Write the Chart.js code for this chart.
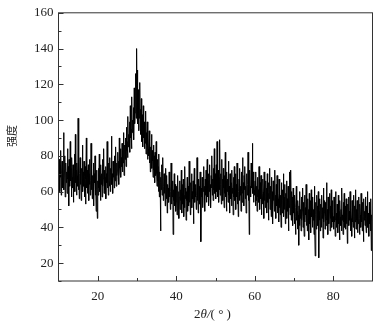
<!DOCTYPE html>
<html>
<head>
<meta charset="utf-8">
<script src="https://cdn.jsdelivr.net/npm/chart.js@4"></script>
<style>
html,body{margin:0;padding:0;background:#fff}
</style>
</head>
<body>
<canvas id="xrdChart" width="385" height="326"></canvas>
<script>
// 2theta from 10 to 90 deg, 0.1 deg per reading
var angleStart = 10, angleStep = 0.1;

var seg10 = [72,64,78,60,75,68,83,58,70,77, 62,74,66,93,61,72,80,57,69,76, 65,71,59,84,67,74,52,78,70,63,
  88,66,73,57,79,68,62,75,54,71, 67,81,60,92,65,72,58,76,69,63, 101,61,74,56,70,79,64,68,55,73,
  66,86,60,71,63,77,57,69,74,53, 67,90,62,72,59,68,75,55,70,64, 78,58,66,87,61,73,56,69,63,76,
  52,70,65,80,58,67,49,72,61,45];
var seg20 = [66,58,73,62,81,60,69,55,75,64, 70,57,78,63,67,84,59,72,61,68, 74,56,70,65,88,62,71,58,76,66,
  63,79,60,73,67,91,64,70,59,77, 68,74,62,80,66,71,85,63,76,69, 72,82,67,77,64,90,73,70,84,68,
  79,74,87,71,83,76,93,69,81,86, 78,90,74,96,83,88,79,102,85,92, 87,99,82,108,90,95,84,113,93,100,
  96,107,89,118,98,104,110,126,101,140];
var seg30 = [105,128,98,117,94,110,101,121,96,106, 92,112,88,103,95,85,108,90,99,84, 96,87,105,81,93,86,99,78,90,84,
  80,94,76,88,71,85,79,92,73,83, 77,68,86,72,80,65,82,74,69,88, 70,63,78,66,74,60,81,57,71,65,
  38,68,61,75,58,66,79,55,63,70, 59,67,52,73,61,56,69,48,64,58, 62,54,71,57,65,50,60,76,53,63,
  57,66,36,61,55,70,52,64,58,49];
var seg40 = [54,63,47,58,69,52,60,45,57,66, 50,61,55,72,48,59,64,53,67,46, 58,51,74,56,62,44,60,55,68,49,
  63,57,52,77,54,61,47,65,58,70, 51,60,56,66,42,59,73,54,62,57, 64,50,58,79,55,61,48,67,56,63,
  53,71,59,32,62,57,68,51,65,60, 74,55,63,49,67,58,72,54,61,78, 57,66,52,70,60,75,56,64,51,69,
  62,80,58,67,55,73,61,84,59,70];
var seg50 = [66,56,75,60,88,63,57,72,54,68, 61,89,58,70,64,53,78,60,67,55, 73,62,51,69,59,82,57,66,49,71,
  60,67,54,77,58,63,48,70,61,56, 65,52,72,59,62,47,68,57,74,55, 61,70,50,64,57,76,53,66,46,60,
  67,55,73,58,63,49,71,60,54,79, 59,65,52,69,61,74,56,63,48,66, 70,58,64,82,55,67,36,72,60,63,
  57,76,62,68,87,59,71,54,66,61];
var seg60 = [58,66,52,71,55,63,49,68,57,61, 54,74,58,50,65,56,69,47,62,59, 53,67,60,45,71,55,63,51,66,57,
  62,48,70,54,59,44,65,56,73,50, 57,63,46,68,53,60,42,66,55,61, 49,72,54,58,45,64,52,69,48,59,
  56,43,67,51,62,47,58,40,65,53, 48,61,55,70,46,57,50,64,42,59, 52,66,45,56,49,63,38,58,51,71,
  47,54,72,44,60,50,57,41,62,48];
var seg70 = [53,42,58,46,36,51,63,44,49,39, 55,47,30,52,41,60,45,50,38,57, 44,49,62,40,54,46,35,58,43,51,
  47,64,41,53,38,56,45,50,33,59, 42,48,55,37,61,46,51,40,57,44, 50,36,63,43,24,54,47,39,58,45,
  52,41,60,23,49,44,56,38,53,47, 40,58,45,51,34,62,43,48,55,39, 54,46,41,65,44,50,36,57,47,42,
  49,59,38,52,45,61,40,48,55,43];
var seg80 = [46,39,57,43,51,35,60,44,48,40, 53,45,37,58,42,49,33,55,46,41, 50,38,62,44,47,36,54,43,59,40,
  45,52,39,56,42,48,31,53,46,57, 41,49,44,60,38,51,45,35,55,43, 48,40,58,46,34,52,43,61,39,50,
  44,55,37,49,42,57,45,36,53,47, 40,59,43,50,38,54,46,32,56,44, 49,41,57,45,37,52,43,60,40,48,
  46,35,54,42,50,38,56,27,47,44, 43];

var yTicks = [20, 40, 60, 80, 100, 120, 140, 160];
var yMinorTicks = [10, 30, 50, 70, 90, 110, 130, 150];
var xTicks = [20, 40, 60, 80];
var xMinorTicks = [30, 50, 70];

var intensity = seg10.concat(seg20, seg30, seg40, seg50, seg60, seg70, seg80);
var points = intensity.map(function (v, i) {
  return {x: +(angleStart + i * angleStep).toFixed(1), y: v};
});

var serif = "'Liberation Serif', 'Times New Roman', serif";

// frame, inward ticks, axis titles
var framePlugin = {
  id: 'frame',
  afterDraw: function (chart) {
    var c = chart.ctx, a = chart.chartArea;
    var xs = chart.scales.x, ys = chart.scales.y;
    c.save();
    c.strokeStyle = '#333';
    c.lineWidth = 1;
    c.strokeRect(a.left, a.top, a.right - a.left, a.bottom - a.top);
    c.beginPath();
    yTicks.forEach(function (v) {
      var p = Math.round(ys.getPixelForValue(v)) + 0.5;
      c.moveTo(a.left, p); c.lineTo(a.left + 5, p);
    });
    yMinorTicks.forEach(function (v) {
      var p = Math.round(ys.getPixelForValue(v)) + 0.5;
      c.moveTo(a.left, p); c.lineTo(a.left + 3, p);
    });
    xTicks.forEach(function (v) {
      var p = Math.round(xs.getPixelForValue(v)) + 0.5;
      c.moveTo(p, a.bottom); c.lineTo(p, a.bottom - 5);
    });
    xMinorTicks.forEach(function (v) {
      var p = Math.round(xs.getPixelForValue(v)) + 0.5;
      c.moveTo(p, a.bottom); c.lineTo(p, a.bottom - 3);
    });
    c.stroke();

    // x title: 2θ/(°)
    c.fillStyle = '#222';
    c.textBaseline = 'middle';
    var parts = [['2', ''], ['θ/', 'italic '], ['( ° )', '']];
    var w = 0;
    parts.forEach(function (p) { c.font = p[1] + '13px ' + serif; w += c.measureText(p[0]).width; });
    var x0 = (a.left + a.right) / 2 - w / 2 - 3;
    parts.forEach(function (p) {
      c.font = p[1] + '13px ' + serif;
      c.textAlign = 'left';
      c.fillText(p[0], x0, 315);
      x0 += c.measureText(p[0]).width;
    });

    // y title
    c.translate(12, 136);
    c.rotate(-Math.PI / 2);
    c.font = "11px 'Noto Sans CJK SC'";
    c.textAlign = 'center';
    c.fillText('强度', 0, 0);
    c.restore();
  }
};

var ctx = document.getElementById('xrdChart').getContext('2d');
var chart = new Chart(ctx, {
  type: 'line',
  data: {
    datasets: [{
      data: points,
      borderColor: '#000',
      borderWidth: 1,
      pointRadius: 0,
      fill: false,
      tension: 0
    }]
  },
  options: {
    responsive: false,
    animation: false,
    layout: {padding: {top: 11, right: 12.5, left: 0, bottom: 0}},
    plugins: {legend: {display: false}, tooltip: {enabled: false}},
    scales: {
      x: {
        type: 'linear', min: 10, max: 90,
        afterBuildTicks: function (s) { s.ticks = xTicks.map(function (v) { return {value: v}; }); },
        afterFit: function (s) { s.height = 45; },
        grid: {display: false, drawTicks: false},
        border: {display: false},
        ticks: {padding: 8, maxRotation: 0, color: '#222', font: {family: serif, size: 13}}
      },
      y: {
        min: 10, max: 160,
        afterBuildTicks: function (s) { s.ticks = yTicks.map(function (v) { return {value: v}; }); },
        afterFit: function (s) { s.width = 58.5; },
        grid: {display: false, drawTicks: false},
        border: {display: false},
        ticks: {padding: 5, color: '#222', font: {family: serif, size: 13}}
      }
    }
  },
  plugins: [framePlugin]
});
</script>
</body>
</html>
